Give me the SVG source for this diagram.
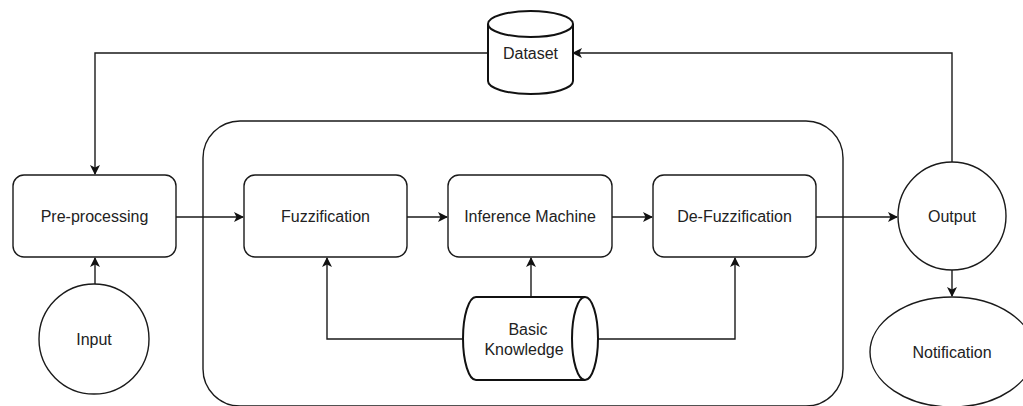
<svg xmlns="http://www.w3.org/2000/svg" width="1023" height="406" viewBox="0 0 1023 406">
  <style>
    .shape { fill: #ffffff; stroke: #1a1a1a; stroke-width: 1.4; }
    .db { fill: #ffffff; stroke: #111111; stroke-width: 2; }
    .edge { fill: none; stroke: #1a1a1a; stroke-width: 1.4; }
    .label { font-family: "Liberation Sans", Arial, Helvetica, sans-serif; font-size: 16px; fill: #222222; text-anchor: middle; }
  </style>
  <defs>
    <marker id="arrow" viewBox="0 0 10 10" refX="9" refY="5" markerWidth="10" markerHeight="10" markerUnits="userSpaceOnUse" orient="auto">
      <path d="M0,0 L10,5 L0,10 L2.5,5 z" fill="#111111"/>
    </marker>
  </defs>

  <rect width="1023" height="406" fill="#ffffff"/>

  <!-- fuzzy inference engine container -->
  <g id="engine">
    <rect class="shape" x="203" y="121" width="640" height="285" rx="37" ry="37"/>
  </g>

  <!-- connectors -->
  <g id="connectors">
    <path class="edge" d="M488,53 L95,53 L95,174" marker-end="url(#arrow)"/>
    <path class="edge" d="M952,162 L952,53 L573,53" marker-end="url(#arrow)"/>
    <path class="edge" d="M95,284 L95,258" marker-end="url(#arrow)"/>
    <path class="edge" d="M176,217 L243,217" marker-end="url(#arrow)"/>
    <path class="edge" d="M407,217 L447,217" marker-end="url(#arrow)"/>
    <path class="edge" d="M612,217 L652,217" marker-end="url(#arrow)"/>
    <path class="edge" d="M816,217 L897,217" marker-end="url(#arrow)"/>
    <path class="edge" d="M952,270 L952,296" marker-end="url(#arrow)"/>
    <path class="edge" d="M463,339 L327,339 L327,258" marker-end="url(#arrow)"/>
    <path class="edge" d="M531,297 L531,258" marker-end="url(#arrow)"/>
    <path class="edge" d="M598,339 L735,339 L735,258" marker-end="url(#arrow)"/>
  </g>

  <g id="dataset">
    <path class="db" d="M488,24 L488,81 A42.5,13 0 0 0 573,81 L573,24 A42.5,13 0 0 0 488,24 Z"/>
    <path class="db" fill="none" d="M488,24 A42.5,13 0 0 0 573,24"/>
    <text class="label" x="530.5" y="59">Dataset</text>
  </g>

  <g id="preprocessing">
    <rect class="shape" x="13" y="175" width="163" height="82" rx="11" ry="11"/>
    <text class="label" x="94.5" y="222">Pre-processing</text>
  </g>

  <g id="input">
    <circle class="shape" cx="94" cy="339" r="55"/>
    <text class="label" x="94" y="345">Input</text>
  </g>

  <g id="fuzzification">
    <rect class="shape" x="244" y="175" width="163" height="82" rx="11" ry="11"/>
    <text class="label" x="325.5" y="222">Fuzzification</text>
  </g>

  <g id="inference">
    <rect class="shape" x="448" y="175" width="164" height="82" rx="11" ry="11"/>
    <text class="label" x="530" y="222">Inference Machine</text>
  </g>

  <g id="defuzzification">
    <rect class="shape" x="653" y="175" width="163" height="82" rx="11" ry="11"/>
    <text class="label" x="734.5" y="222">De-Fuzzification</text>
  </g>

  <g id="knowledge">
    <path class="db" d="M476,297 L585,297 A13,41.5 0 0 1 585,380 L476,380 A13,41.5 0 0 1 476,297 Z"/>
    <path class="db" fill="none" d="M585,297 A13,41.5 0 0 0 585,380"/>
    <text class="label" x="528" y="335">Basic</text>
    <text class="label" x="524" y="355">Knowledge</text>
  </g>

  <g id="output">
    <circle class="shape" cx="952" cy="216" r="54"/>
    <text class="label" x="952" y="222">Output</text>
  </g>

  <g id="notification">
    <ellipse class="shape" cx="952" cy="352" rx="82" ry="55"/>
    <text class="label" x="952" y="358">Notification</text>
  </g>
</svg>
